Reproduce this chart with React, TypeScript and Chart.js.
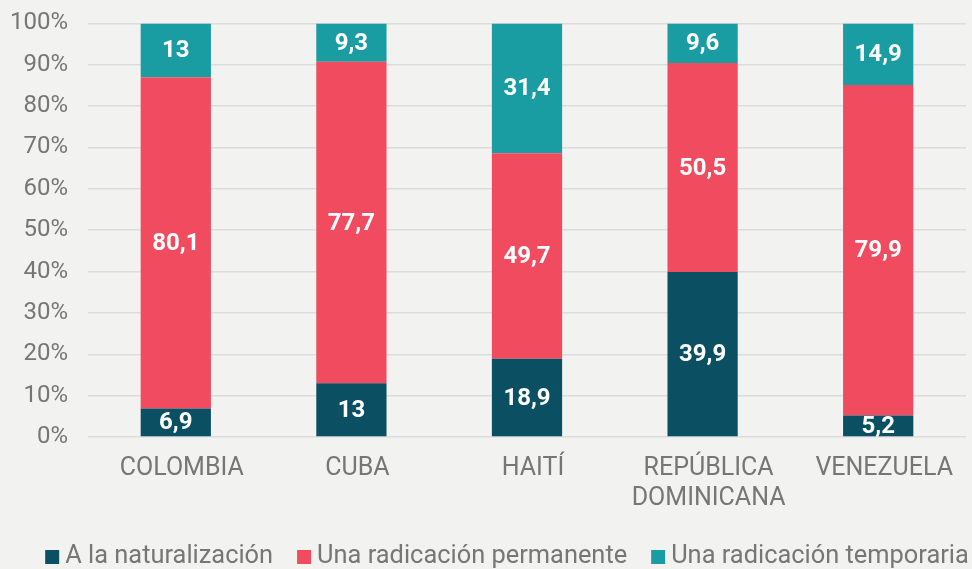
import React, { useEffect, useRef } from "react";
import { Chart, registerables } from "chart.js";

Chart.register(...registerables);

const categories: (string | string[])[] = ["COLOMBIA", "CUBA", "HAITÍ", ["REPÚBLICA", "DOMINICANA"], "VENEZUELA"];
const naturalizacion = [6.9, 13, 18.9, 39.9, 5.2];
const permanente = [80.1, 77.7, 49.7, 50.5, 79.9];
const temporaria = [13, 9.3, 31.4, 9.6, 14.9];
const seriesNames = ["A la naturalización", "Una radicación permanente", "Una radicación temporaria"];
const seriesColors = ["#0b4f63", "#f04b5f", "#1a9da2"];
const yTicks = [0, 10, 20, 30, 40, 50, 60, 70, 80, 90, 100];

const FONT = "Roboto";
const GREY = "#767676";

const valueLabels = {
  id: "valueLabels",
  afterDatasetsDraw(chart: any) {
    const ctx = chart.ctx;
    ctx.save();
    ctx.fillStyle = "#ffffff";
    ctx.font = `bold 24px ${FONT}`;
    ctx.textAlign = "center";
    ctx.textBaseline = "middle";
    chart.data.datasets.forEach((ds: any, di: number) => {
      const meta = chart.getDatasetMeta(di);
      meta.data.forEach((bar: any, i: number) => {
        const v = ds.data[i];
        const y = (bar.y + bar.base) / 2;
        ctx.fillText(String(v).replace(".", ","), bar.x, y + 1);
      });
    });
    ctx.restore();
  },
};

const bottomLegend = {
  id: "bottomLegend",
  afterDraw(chart: any) {
    const ctx = chart.ctx;
    ctx.save();
    ctx.font = `25.4px ${FONT}`;
    const box = 14;
    const gap = 6;
    const spacing = 24;
    const items = chart.data.datasets.map((ds: any) => ({
      label: ds.label,
      color: ds.backgroundColor,
      w: box + gap + ctx.measureText(ds.label).width,
    }));
    const total = items.reduce((s: number, it: any) => s + it.w, 0) + spacing * (items.length - 1);
    let x = 507 - total / 2;
    const baseline = chart.height - 6;
    ctx.textBaseline = "alphabetic";
    ctx.textAlign = "left";
    items.forEach((it: any) => {
      ctx.fillStyle = it.color;
      ctx.fillRect(x, baseline - 13, box, box);
      ctx.fillStyle = GREY;
      ctx.fillText(it.label, x + box + gap, baseline);
      x += it.w + spacing;
    });
    ctx.restore();
  },
};

export default function App() {
  const ref = useRef<HTMLCanvasElement>(null);
  useEffect(() => {
    const chart = new Chart(ref.current!, {
      type: "bar",
      data: {
        labels: categories,
        datasets: [
          { label: seriesNames[0], data: naturalizacion, backgroundColor: seriesColors[0] },
          { label: seriesNames[1], data: permanente, backgroundColor: seriesColors[1] },
          { label: seriesNames[2], data: temporaria, backgroundColor: seriesColors[2] },
        ],
      },
      options: {
        animation: false,
        responsive: false,
        maintainAspectRatio: false,
        layout: { padding: { top: 0, right: 6, left: 0, bottom: 46 } },
        datasets: { bar: { barPercentage: 0.4, categoryPercentage: 1 } },
        scales: {
          x: {
            stacked: true,
            grid: { display: false },
            border: { display: false },
            ticks: { color: GREY, font: { family: FONT, size: 25 }, padding: 9, labelOffset: 6, maxRotation: 0, autoSkip: false },
          },
          y: {
            stacked: true,
            min: 0,
            max: 100,
            afterBuildTicks: (axis: any) => {
              axis.ticks = yTicks.map((v) => ({ value: v }));
            },
            afterFit: (axis: any) => {
              axis.width = 88;
            },
            grid: { color: "#dcdcdc", lineWidth: 1.5, drawTicks: false },
            border: { display: false },
            ticks: {
              color: GREY,
              font: { family: FONT, size: 24 },
              padding: 20,
              callback: (v: any) => v + "%",
            },
          },
        },
        plugins: {
          legend: { display: false },
          tooltip: { enabled: false },
        },
      },
      plugins: [valueLabels, bottomLegend],
    });
    return () => chart.destroy();
  }, []);
  return (
    <div style={{ position: "fixed", left: 0, top: 0, width: 972, height: 569, background: "#f2f2f1", overflow: "hidden" }}>
      <canvas ref={ref} width={972} height={580} style={{ display: "block", position: "absolute", left: 0, top: -11 }} />
    </div>
  );
}
